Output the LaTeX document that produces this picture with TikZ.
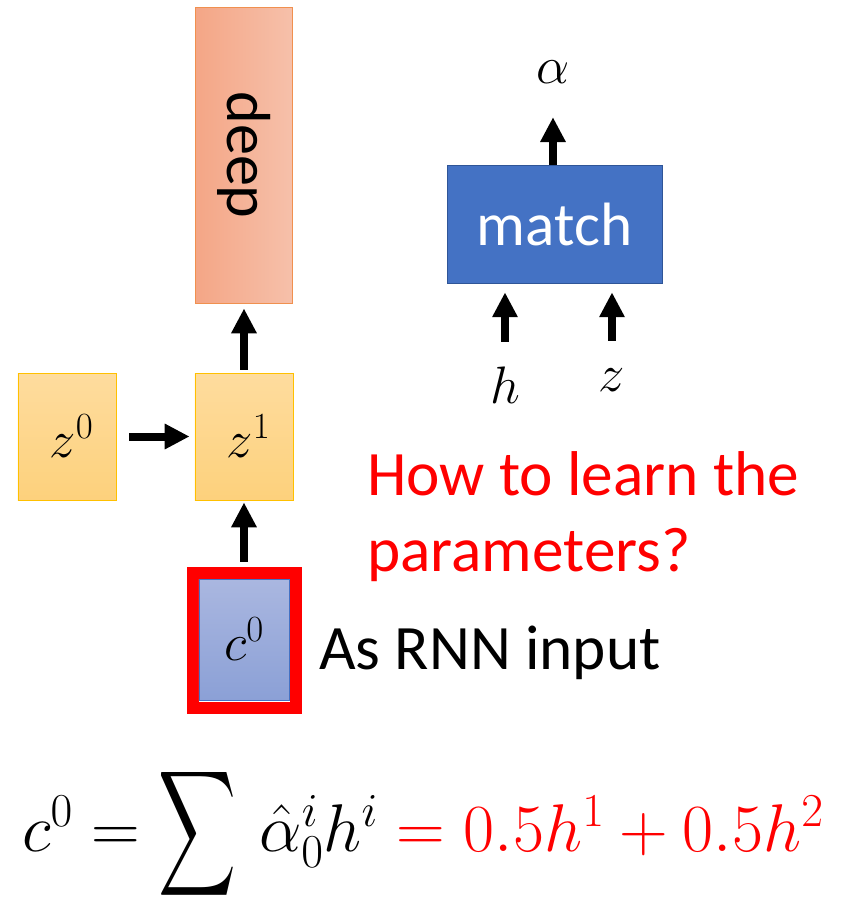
\RequirePackage{fix-cm}
\documentclass[tikz,border=0pt]{standalone}
\usepackage[no-math]{fontspec}
\setmainfont{Carlito}
\usepackage{graphicx}
\DeclareFontShape{OMX}{cmex}{m}{n}{<->cmex10}{}
\usetikzlibrary{arrows.meta, positioning}
\usepackage{xcolor}
\definecolor{cDeepL}{HTML}{F4A686}
\definecolor{cDeepR}{HTML}{F6C0AA}
\definecolor{cDeepE}{HTML}{F0904F}
\definecolor{cGoldT}{HTML}{FEDC9E}
\definecolor{cGoldB}{HTML}{FDD17C}
\definecolor{cGoldE}{HTML}{FFC000}
\definecolor{cBlueT}{HTML}{AAB7E0}
\definecolor{cBlueB}{HTML}{8BA0D6}
\definecolor{cBlue}{HTML}{4472C4}
\definecolor{cBlueE}{HTML}{2F5597}
\definecolor{cRed}{HTML}{FF0000}
\newcommand{\mathsize}{\fontsize{50}{60}\selectfont}
\newcommand{\textsize}{\fontsize{60}{72}\selectfont}

\begin{document}
\begin{tikzpicture}[
  block/.style={rectangle, draw, line width=0.6pt, inner sep=0pt},
  deepbox/.style={block, draw=cDeepE, left color=cDeepL, right color=cDeepR,
                  minimum width=3.233cm, minimum height=9.867cm, font=\fontsize{59}{70}\selectfont},
  statebox/.style={block, draw=cGoldE, top color=cGoldT, bottom color=cGoldB,
                   minimum width=3.267cm, minimum height=4.233cm, font=\mathsize},
  ctxbox/.style={block, draw=cBlue, top color=cBlueT, bottom color=cBlueB,
                 minimum width=3cm, minimum height=4.033cm, font=\mathsize},
  redframe/.style={rectangle, draw=cRed, line width=0.4cm,
                   minimum width=3.433cm, minimum height=4.5cm},
  matchbox/.style={block, draw=cBlueE, fill=cBlue, text=white,
                   minimum width=7.167cm, minimum height=3.933cm, font=\fontsize{58}{68}\selectfont},
  lbl/.style={inner sep=2pt, font=\mathsize},
  arr/.style={-{Triangle[length=0.83cm, width=0.8cm]}, line width=0.267cm},
]
\useasboundingbox (0,0) rectangle (28.7,-29.9);

% ---- left column ----
\node[deepbox] (deep) at (8.133,-5.167) {\rotatebox{-90}{deep}};
\node[statebox] (z0) at (2.233,-14.55) {\,$z^0$};
\node[statebox] (z1) at (8.133,-14.55) {\,$z^1$};
\node[redframe] (frame) at (8.15,-21.35) {};
\node[ctxbox] (c0) at (8.133,-21.317) {$c^0$};
\draw[arr, shorten <=0.1cm, shorten >=0.17cm] (z1) -- (deep);
\draw[arr, shorten <=0.43cm, shorten >=0.17cm] (z0) -- (z1);
\draw[arr, shorten <=0.17cm, shorten >=0.07cm] (frame.north -| z1) -- (z1);

% ---- match block ----
\node[matchbox] (match) at (18.483,-7.467) {match};
\node[lbl] (alpha) at (18.433,-2.4) {$\alpha$};
\node[lbl] (h) at (16.833,-12.833) {$h$};
\node[lbl] (zz) at (20.4,-12.667) {$z$};
\draw[arr, shorten >=1.05cm] (match.north -| alpha) -- (alpha);
\draw[arr, shorten <=0.75cm, shorten >=0.3cm] (h) -- (h |- match.south);
\draw[arr, shorten <=0.85cm, shorten >=0.3cm] (zz) -- (zz |- match.south);

% ---- texts ----
\node[anchor=north west, align=left, inner sep=0pt, text=cRed, font=\textsize]
  (ask) at (12.233,-15.033) {How to learn the\\parameters?};
\node[anchor=base west, inner sep=0pt, font=\textsize] (rnn) at (10.633,-22.333) {As RNN input};
\node[anchor=base west, inner sep=0pt, font=\fontsize{64}{76}\selectfont] (eq) at (0.733,-28.367)
  {$c^0 = \mathop{\vcenter{\hbox{\scalebox{0.8}[1.3]{$\displaystyle\sum$}}}}\, \hat{\alpha}_0^i h^i
   \color{cRed} = 0.5h^1 + 0.5h^2$};

\end{tikzpicture}
\end{document}
